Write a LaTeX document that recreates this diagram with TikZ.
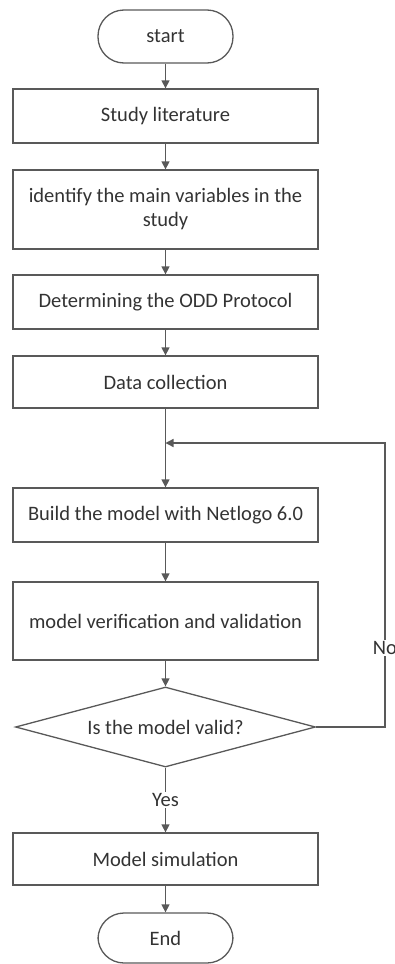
\documentclass[tikz,border=0pt]{standalone}
\usepackage{fontspec}
\setmainfont{Carlito}
\usetikzlibrary{arrows.meta, positioning, shapes.geometric}
\definecolor{linegray}{HTML}{595959}
\definecolor{textgray}{HTML}{333333}

\begin{document}
\begin{tikzpicture}[x=1pt, y=-1pt,
  every node/.style={font=\fontsize{20.5}{24}\selectfont, text=textgray},
  procbox/.style={draw=linegray, line width=1.3pt, rectangle, minimum width=305pt, align=center, inner sep=0pt},
  terminal/.style={draw=linegray, line width=1.3pt, rectangle, rounded corners=26pt, minimum width=135pt, minimum height=53pt},
  decision/.style={draw=linegray, line width=1.3pt, diamond, aspect=3.75, minimum width=300pt, minimum height=80pt, inner sep=0pt},
  flow/.style={draw=linegray, line width=1.3pt, -{Triangle[length=8pt,width=8pt]}},
  plain/.style={draw=linegray, line width=1.3pt}
]
  % Page size
  \useasboundingbox (0,0) rectangle (394,964);

  % Steps
  \node[terminal] (start) at (165.5,36.5) {start};
  \node[procbox, minimum height=54pt] (lit) at (165.5,116) {Study literature};
  \node[procbox, minimum height=79pt] (ident) at (165.5,209.5) {identify the main variables in the\\study};
  \node[procbox, minimum height=54pt] (odd) at (165.5,302) {Determining the ODD Protocol};
  \node[procbox, minimum height=52pt] (data) at (165.5,382) {Data collection};
  \node[procbox, minimum height=54pt] (build) at (165.5,515) {Build the model with Netlogo 6.0};
  \node[procbox, minimum height=78pt] (verif) at (165.5,621) {model verification and validation};
  \node[decision] (valid) at (165.5,727) {Is the model valid?};
  \node[procbox, minimum height=52pt] (sim) at (165.5,859) {Model simulation};
  \node[terminal, minimum height=50pt] (end) at (165.5,938) {End};

  % Main flow
  \foreach \a/\b in {start/lit, lit/ident, ident/odd, odd/data, data/build, build/verif, verif/valid, sim/end} {
    \draw[flow] (\a) -- (\b);
  }

  % Yes branch
  \draw[flow] (valid) -- node[fill=white, inner sep=1pt] (yes) {Yes} (sim);

  % No branch back to the model
  \coordinate (merge) at (165.5,443);
  \coordinate (loopcorner) at (385,443);
  \draw[flow] (valid.east) -| (loopcorner) -- (merge);
  \node[fill=white, inner sep=1pt] (no) at (385,648) {No};
\end{tikzpicture}
\end{document}
